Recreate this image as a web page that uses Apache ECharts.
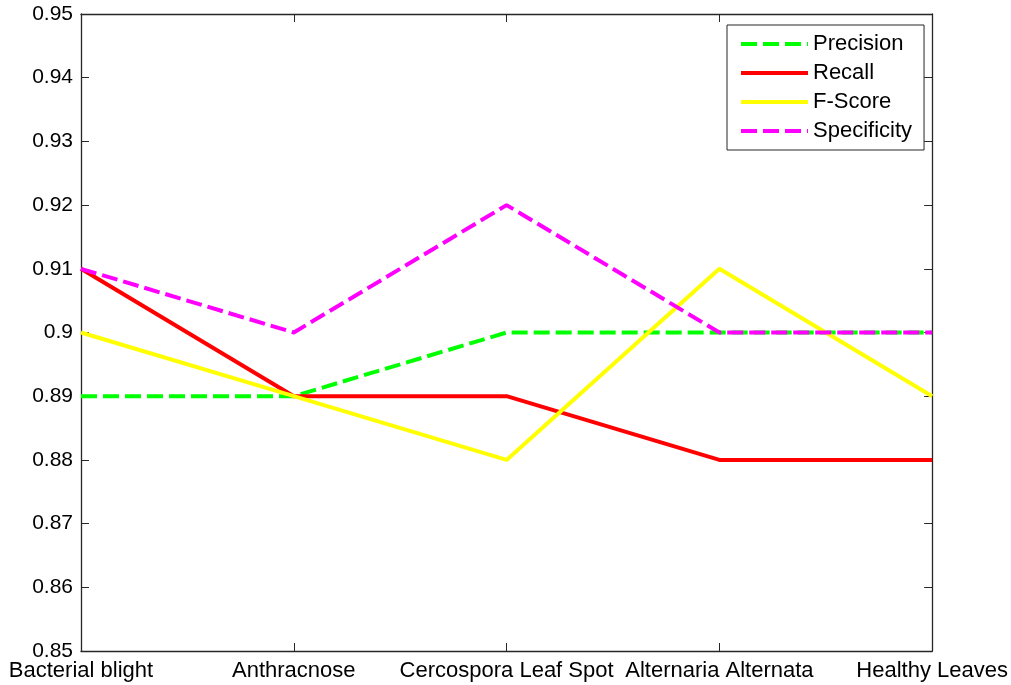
<!DOCTYPE html>
<html><head><meta charset="utf-8">
<script src="https://cdn.jsdelivr.net/npm/echarts@6/dist/echarts.min.js"></script>
<style>html,body{margin:0;padding:0;background:#fff}#c{width:1011px;height:685px}</style>
</head><body><div id="c"></div>
<script>
const categories = ['Bacterial blight','Anthracnose','Cercospora Leaf Spot','Alternaria Alternata','Healthy Leaves'];
const precision   = [0.89, 0.89, 0.90, 0.90, 0.90];
const recall      = [0.91, 0.89, 0.89, 0.88, 0.88];
const fscore      = [0.90, 0.89, 0.88, 0.91, 0.89];
const specificity = [0.91, 0.90, 0.92, 0.90, 0.90];
const yTicks = [0.85,0.86,0.87,0.88,0.89,0.90,0.91,0.92,0.93,0.94,0.95];

const FONT = 'Liberation Sans, Arial, sans-serif';
const AX = '#262626';
const chart = echarts.init(document.getElementById('c'), null, {renderer:'canvas'});
function mk(name, data, color, dashed){
  return {name, type:'line', data, symbol:'none', animation:false,
    lineStyle:{color, width:4, type: dashed ? [16,6] : 'solid', cap:'butt'},
    itemStyle:{color}};
}
chart.setOption({
  animation:false,
  backgroundColor:'#fff',
  grid:{left:81, right:78, top:14, bottom:34, containLabel:false},
  legend:{
    left:727, top:25, orient:'vertical',
    data:['Precision','Recall','F-Score','Specificity'],
    itemWidth:67, itemHeight:20, itemGap:5,
    padding:[7,12,7,12],
    backgroundColor:'#fff', borderColor:AX, borderWidth:1, borderRadius:0,
    textStyle:{fontFamily:FONT, fontSize:22, color:'#000', lineHeight:24},
    itemStyle:{color:'transparent', borderWidth:0, opacity:0},
    lineStyle:{width:4}
  },
  xAxis:[{
    type:'category', data:categories, boundaryGap:false,
    axisLine:{lineStyle:{color:AX, width:1.3}},
    axisTick:{inside:true, length:8, lineStyle:{color:AX}, alignWithLabel:true},
    axisLabel:{fontFamily:FONT, fontSize:22, color:'#000', margin:9, interval:0},
    splitLine:{show:false}
  },{
    type:'category', data:categories, boundaryGap:false, position:'top',
    axisLine:{lineStyle:{color:AX, width:1.3}},
    axisTick:{inside:true, length:8, lineStyle:{color:AX}},
    axisLabel:{show:false}, splitLine:{show:false}
  }],
  yAxis:[{
    type:'value', min:yTicks[0], max:yTicks[yTicks.length-1], interval:0.01,
    axisLine:{show:true, lineStyle:{color:AX, width:1.3}},
    axisTick:{show:true, inside:true, length:8, lineStyle:{color:AX}},
    axisLabel:{fontFamily:FONT, fontSize:21, color:'#000', margin:8,
      formatter:v=>String(parseFloat(v.toFixed(2)))},
    splitLine:{show:false}
  },{
    type:'value', min:yTicks[0], max:yTicks[yTicks.length-1], interval:0.01, position:'right',
    axisLine:{show:true, lineStyle:{color:AX, width:1.3}},
    axisTick:{show:true, inside:true, length:8, lineStyle:{color:AX}},
    axisLabel:{show:false}, splitLine:{show:false}
  }],
  series:[
    mk('Precision', precision, '#00ff00', true),
    mk('Recall', recall, '#ff0000', false),
    mk('F-Score', fscore, '#ffff00', false),
    mk('Specificity', specificity, '#ff00ff', true)
  ]
});
</script></body></html>
